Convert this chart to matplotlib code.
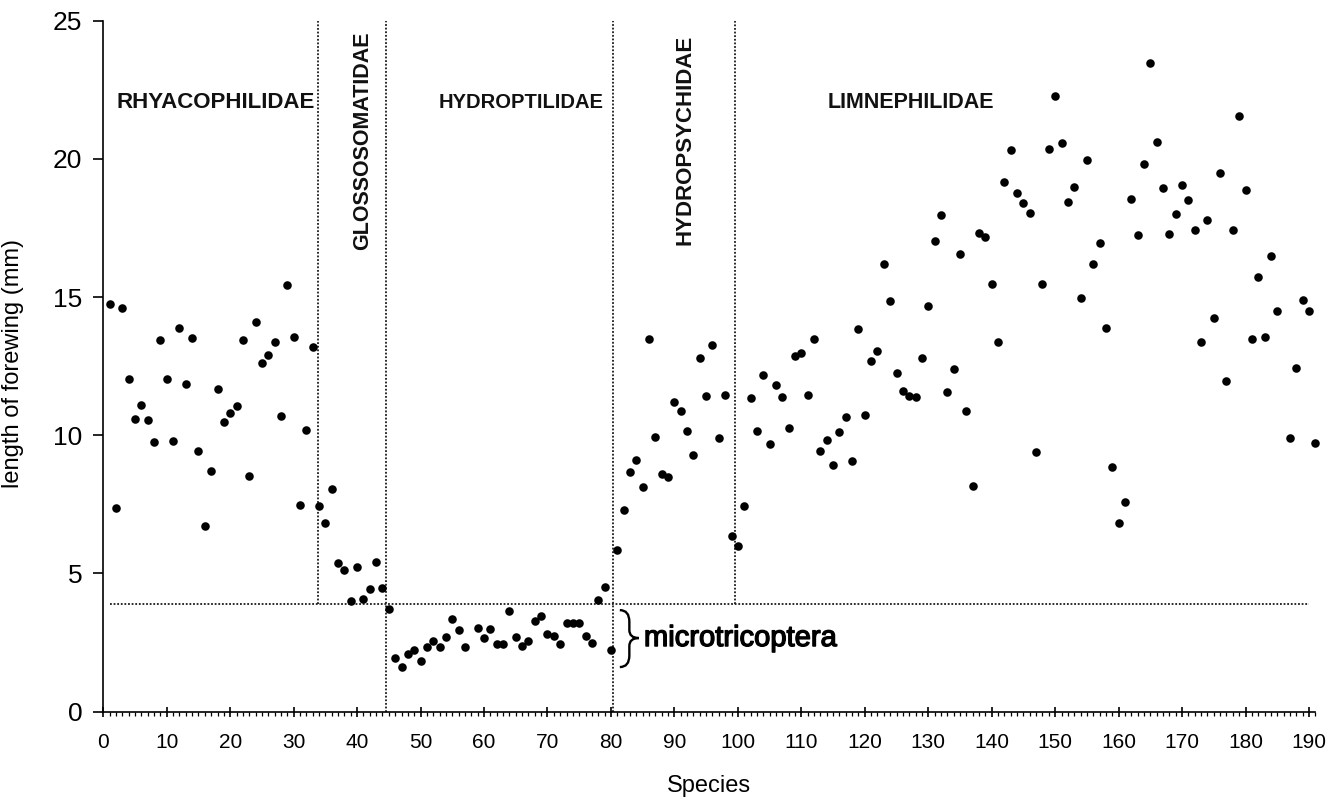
import matplotlib
matplotlib.use("Agg")
import matplotlib.pyplot as plt
import matplotlib.patheffects as pe
from matplotlib.path import Path
from matplotlib.patches import PathPatch
from matplotlib.ticker import MultipleLocator

plt.rcParams["font.family"] = ["Liberation Sans", "DejaVu Sans"]

# species numbers (58 and 186 have no point in the figure)
missing_species = [58, 186]
species = [i for i in range(1, 192) if i not in missing_species]

# forewing length (mm)
lengths = [
    14.74, 7.37, 14.59, 12.04, 10.60, 11.10, 10.56, 9.76, 13.43, 12.03,
    9.79, 13.88, 11.87, 13.51, 9.44, 6.71, 8.72, 11.67, 10.48, 10.79,
    11.04, 13.44, 8.51, 14.09, 12.60, 12.90, 13.37, 10.69, 15.44, 13.55,
    7.47, 10.20, 13.18, 7.43, 6.84, 8.07, 5.36, 5.11, 4.01, 5.24,
    4.09, 4.44, 5.41, 4.48, 3.71, 1.92, 1.62, 2.08, 2.23, 1.83,
    2.33, 2.57, 2.35, 2.71, 3.35, 2.95, 2.35,
    3.03, 2.66,
    2.99, 2.45, 2.45, 3.65, 2.69, 2.39, 2.54, 3.29, 3.44, 2.81,
    2.75, 2.45, 3.19, 3.19, 3.22, 2.75, 2.47, 4.04, 4.52, 2.21,
    5.85, 7.31, 8.66, 9.10, 8.11, 13.47, 9.93, 8.60, 8.50, 11.21,
    10.89, 10.17, 9.29, 12.78, 11.43, 13.26, 9.91, 11.45, 6.37, 5.98,
    7.44, 11.33, 10.14, 12.19, 9.69, 11.81, 11.37, 10.27, 12.85, 12.96,
    11.46, 13.48, 9.44, 9.84, 8.93, 10.13, 10.67, 9.08, 13.86, 10.74,
    12.69, 13.04, 16.21, 14.86, 12.27, 11.61, 11.41, 11.37, 12.81, 14.67,
    17.03, 17.96, 11.57, 12.38, 16.55, 10.86, 8.17, 17.31, 17.18, 15.48,
    13.38, 19.18, 20.34, 18.75, 18.42, 18.06, 9.39, 15.48, 20.35, 22.28,
    20.58, 18.43, 18.99, 14.97, 19.95, 16.21, 16.95, 13.89, 8.85, 6.82,
    7.57, 18.55, 17.24, 19.82, 23.48, 20.63, 18.93, 17.28, 17.99, 19.06,
    18.51, 17.43, 13.39, 17.78, 14.24, 19.49, 11.98, 17.42, 21.57, 18.87,
    13.50, 15.74, 13.56, 16.49, 14.50,
    9.91, 12.43, 14.90, 14.51, 9.72,
]

family_names = ["RHYACOPHILIDAE", "GLOSSOSOMATIDAE", "HYDROPTILIDAE",
                "HYDROPSYCHIDAE", "LIMNEPHILIDAE"]
family_bounds = [33.8, 44.6, 80.3, 99.6]
micro_limit = 3.9

fig = plt.figure(figsize=(13.43, 8.05), dpi=100)
ax = fig.add_axes([0.0769, 0.1161, 0.9025, 0.8581])

ax.scatter(species, lengths, s=38, color="black", linewidths=0, zorder=3, clip_on=False)

# family separators and the microtricoptera threshold
dot = dict(color="#1a1a1a", lw=1.3, linestyle=(0, (1, 1)))
ax.plot([family_bounds[0]] * 2, [micro_limit, 25], **dot)
ax.plot([family_bounds[1]] * 2, [0, 25], **dot)
ax.plot([family_bounds[2]] * 2, [0, 25], **dot)
ax.plot([family_bounds[3]] * 2, [micro_limit, 25], **dot)
ax.plot([1, 190], [micro_limit] * 2, **dot)

# family labels
lab = dict(fontweight="bold", color="#111111")
ax.text(2.1, 22.05, family_names[0], fontsize=16, ha="left", va="center", **lab)
ax.text(40.8, 24.6, family_names[1], fontsize=15.5, rotation=90, ha="center", va="top", **lab)
ax.text(65.9, 22.05, family_names[2], fontsize=14.5, ha="center", va="center", **lab)
ax.text(91.6, 24.5, family_names[3], fontsize=16, rotation=90, ha="center", va="top", **lab)
ax.text(114.2, 22.05, family_names[4], fontsize=15.5, ha="left", va="center", **lab)

# brace + microtricoptera
xl, xm, xt = 81.4, 82.9, 84.4
yt, ym, yb = 3.67, 2.66, 1.61
verts = [(xl, yt), (xm, yt), (xm, yt - 0.42), (xm, ym + 0.29),
         (xm, ym), (xt, ym), (xm, ym), (xm, ym - 0.29),
         (xm, yb + 0.42), (xm, yb), (xl, yb)]
codes = [Path.MOVETO, Path.CURVE3, Path.CURVE3, Path.LINETO,
         Path.CURVE3, Path.CURVE3, Path.CURVE3, Path.CURVE3,
         Path.LINETO, Path.CURVE3, Path.CURVE3]
ax.add_patch(PathPatch(Path(verts, codes), fill=False, lw=1.7, color="black"))
ax.text(85.2, ym, "microtricoptera", fontsize=21, ha="left", va="center",
        path_effects=[pe.withStroke(linewidth=1.0, foreground="black")])

ax.set_xlim(0, 191)
ax.set_ylim(0, 25)
for side in ("top", "right"):
    ax.spines[side].set_visible(False)
for side in ("left", "bottom"):
    ax.spines[side].set_linewidth(1.2)

ax.xaxis.set_major_locator(MultipleLocator(10))
ax.xaxis.set_minor_locator(MultipleLocator(1))
ax.yaxis.set_major_locator(MultipleLocator(5))
ax.tick_params(axis="x", which="major", direction="inout", length=7.5, width=1.2,
               labelsize=15, pad=12)
ax.tick_params(axis="x", which="minor", direction="out", length=3.2, width=0.9)
ax.tick_params(axis="y", which="major", direction="out", length=7, width=1.2,
               labelsize=19, pad=8)

ax.set_xlabel("Species", fontsize=17)
ax.xaxis.set_label_coords(0.5, -0.092)
ax.set_ylabel("length of forewing (mm)", fontsize=17)
ax.yaxis.set_label_coords(-0.065, 0.504)

fig.savefig("out.png", dpi=100)
